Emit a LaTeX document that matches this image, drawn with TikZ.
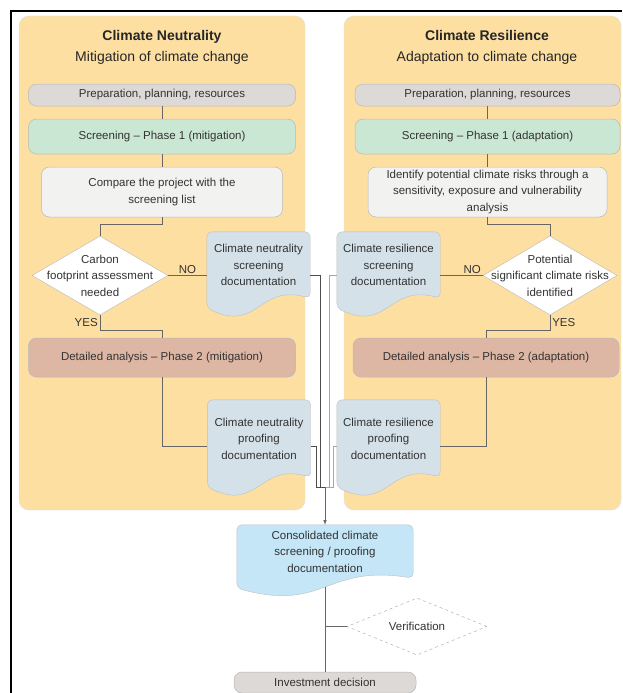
\documentclass[tikz,border=0pt]{standalone}
\usepackage{fontspec}
\setmainfont{Liberation Sans}
\usetikzlibrary{
    arrows,
    calc,
    positioning,
    shapes.geometric
}

\definecolor{panelc}{RGB}{253,223,162}
\definecolor{prepc}{RGB}{221,217,214}
\definecolor{scrc}{RGB}{202,231,211}
\definecolor{cmpc}{RGB}{242,242,241}
\definecolor{detc}{RGB}{222,182,164}
\definecolor{docc}{RGB}{213,225,232}
\definecolor{consc}{RGB}{196,230,246}

\pgfdeclarelayer{back}
\pgfsetlayers{back,main}

\newcommand\bodyfont{\fontsize{11.5}{16.5}\selectfont}

\tikzset{
    panel/.style={fill=panelc, draw=black!12, rounded corners=10pt},
    box/.style={rectangle, rounded corners=8pt, draw=black!28, line width=0.5pt,
        align=center, inner sep=0pt, font=\bodyfont, text=black!80},
    docbox/.style={rectangle, minimum width=103pt, inner sep=0pt, align=center,
        font=\bodyfont, text=black!80},
    decision/.style={diamond, draw=black!28, fill=white, inner sep=0pt},
    plain/.style={align=center, font=\bodyfont, text=black!80},
    ttl/.style={align=center, font=\fontsize{14}{21}\selectfont, text=black!85},
    conn/.style={draw=black!60, line width=0.6pt},
    lbl/.style={font=\bodyfont, text=black!80, inner sep=2pt}
}

% document shape behind a node: rounded top, wavy bottom
\newcommand\docfill[2]{%
    \begin{pgfonlayer}{back}
        \filldraw[fill=#2, draw=black!25, rounded corners=5pt]
        ([yshift=-10pt]#1.south west)
        .. controls ([yshift=-34pt]#1.south) and ([yshift=14pt]#1.south) .. (#1.south east)
        -- (#1.north east) -- (#1.north west) -- cycle;
    \end{pgfonlayer}}

\begin{document}
\begin{tikzpicture}[x=1pt, y=-1pt]
    \useasboundingbox (0,0) rectangle (622,693);
    \begin{pgfonlayer}{back}
        \filldraw[panel] (19,16) rectangle (305,510);
        \filldraw[panel] (344,16) rectangle (621,510);
    \end{pgfonlayer}
    \draw[line width=1.5pt] (11,693) -- (11,11) -- (622,11);

    % mitigation
    \node[ttl] (ttlL) at (162,47.5) {\textbf{Climate Neutrality}\\Mitigation of climate change};
    \node[box, fill=prepc, minimum width=267pt, minimum height=22pt] (prepL) at (162,95) {Preparation, planning, resources};
    \node[box, fill=scrc, minimum width=267pt, minimum height=35pt] (scrL) at (162,136.5) {Screening – Phase 1 (mitigation)};
    \node[box, fill=cmpc, minimum width=241pt, minimum height=50pt] (cmpL) at (162,192) {Compare the project with the\\screening list};
    \node[decision, minimum width=136pt, minimum height=79pt] (diaL) at (100,275.5) {};
    \node[plain] (diaLt) at (diaL) {Carbon\\footprint assessment\\needed};
    \node[docbox, minimum height=66pt] (docSL) at (258.5,265) {Climate neutrality\\screening\\documentation};
    \node[box, fill=detc, minimum width=267pt, minimum height=39pt] (detL) at (162,357.5) {Detailed analysis – Phase 2 (mitigation)};
    \node[docbox, minimum height=77pt] (docPL) at (259,438.5) {Climate neutrality\\proofing\\documentation};

    % adaptation
    \node[ttl] (ttlR) at (487,47.5) {\textbf{Climate Resilience}\\Adaptation to climate change};
    \node[box, fill=prepc, minimum width=265pt, minimum height=22pt] (prepR) at (487.5,95) {Preparation, planning, resources};
    \node[box, fill=scrc, minimum width=265pt, minimum height=35pt] (scrR) at (487.5,136.5) {Screening – Phase 1 (adaptation)};
    \node[box, fill=cmpc, minimum width=239pt, minimum height=50pt] (idR) at (487.5,192) {Identify potential climate risks through a\\sensitivity, exposure and vulnerability\\analysis};
    \node[decision, minimum width=134pt, minimum height=79pt] (diaR) at (550,275.5) {};
    \node[plain] (diaRt) at (diaR) {Potential\\significant climate risks\\identified};
    \node[docbox, minimum height=66pt] (docSR) at (388.5,265) {Climate resilience\\screening\\documentation};
    \node[box, fill=detc, minimum width=266pt, minimum height=39pt] (detR) at (486,357.5) {Detailed analysis – Phase 2 (adaptation)};
    \node[docbox, minimum height=77pt] (docPR) at (388.5,438.5) {Climate resilience\\proofing\\documentation};

    % joint part
    \coordinate (mrg) at (325,487);
    \node[docbox, minimum width=176pt, minimum height=53pt] (cons) at (325,551.5) {Consolidated climate\\screening / proofing\\documentation};
    \node[decision, dashed, draw=black!35, aspect=2.5, minimum width=140pt, minimum height=57pt, font=\bodyfont, text=black!80] (verif) at (417,626.5) {Verification};
    \node[box, fill=prepc, minimum width=182pt, minimum height=21pt] (inv) at (325,682.5) {Investment decision};

    \docfill{docSL}{docc}
    \docfill{docPL}{docc}
    \docfill{docSR}{docc}
    \docfill{docPR}{docc}
    \docfill{cons}{consc}

    \draw[conn]
    (prepL) -- (scrL)
    (scrL) -- (cmpL)
    (cmpL.south) -- ++(0,7) -| (diaL.north)
    (diaL.east) -- node[lbl, above] {NO} (diaL.east -| docSL.west)
    (diaL.south) -- node[lbl, left] {YES} ++(0,15) -| (detL.north)
    (detL.south) |- ([yshift=-8pt]docPL.west);
    \draw[conn]
    (prepR) -- (scrR)
    (scrR) -- (idR)
    (idR.south) -- ++(0,7) -| (diaR.north)
    (diaR.west) -- node[lbl, above, pos=0.25] {NO} (diaR.west -| docSR.east)
    (diaR.south) -- node[lbl, right] {YES} ++(0,15) -| (detR.north)
    (detR.south) |- ([yshift=-8pt]docPR.east);
    \draw[conn, draw=black!70]
    ([yshift=-10pt]docSL.east) -| ([xshift=-5pt]mrg) -- (mrg)
    ([yshift=-8pt]docPL.east) -| ([xshift=-9pt]mrg) -- (mrg);
    \draw[conn, draw=black!35]
    ([yshift=-10pt]docSR.west) -| ([xshift=4pt]mrg) -- (mrg)
    ([yshift=-8pt]docPR.west) -| ([xshift=8pt]mrg) -- (mrg);
    \draw[conn, -latex] (mrg) -- (cons.north);
    \draw[conn]
    ([yshift=-9pt]cons.south) -- (inv)
    (verif.west) -- (verif.west -| inv.north);
\end{tikzpicture}
\end{document}
